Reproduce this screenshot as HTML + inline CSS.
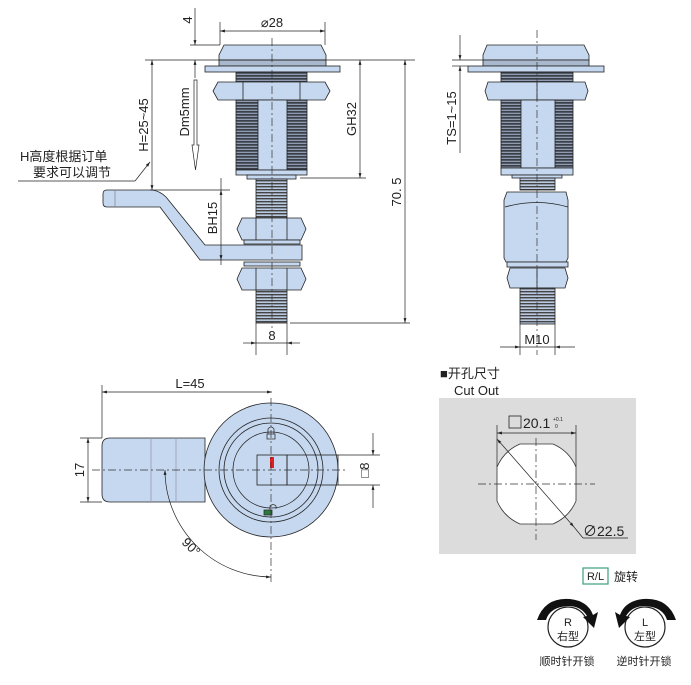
<!DOCTYPE html>
<html><head><meta charset="utf-8"><style>
html,body{margin:0;padding:0;background:#fff}
svg{display:block}
text{font-family:"Liberation Sans","Noto Sans CJK SC",sans-serif;fill:#222}
</style></head><body>
<svg width="691" height="685" viewBox="0 0 691 685" xmlns="http://www.w3.org/2000/svg">
<defs>
<pattern id="thr" width="4" height="3" patternUnits="userSpaceOnUse"><rect width="4" height="3" fill="#8e9bb0"/><rect width="4" height="1.7" fill="#3a3f48"/></pattern>
<pattern id="thr2" width="4" height="3" patternUnits="userSpaceOnUse"><rect width="4" height="3" fill="#b9c9e0"/><rect width="4" height="1.4" fill="#444"/></pattern>
<marker id="a" viewBox="0 0 10 10" refX="10" refY="5" markerWidth="7" markerHeight="7" orient="auto-start-reverse"><path d="M0,2 L10,5 L0,8z" fill="#222"/></marker>
</defs>
<g stroke="#222" stroke-width="0.8" fill="#c6d8ef">
<!-- LEFT SIDE VIEW -->
<path d="M224,45 L321,45 L326,55 L326,60 L219,60 L219,55z"/>
<rect x="219" y="60" width="107" height="6" fill="#a9b8cc"/>
<rect x="205" y="66" width="135" height="6"/>
<rect x="236" y="72" width="71" height="10" fill="url(#thr)"/>
<path d="M218,82 L325,82 L330,91 L325,100 L218,100 L213,91z"/>
<line x1="243" y1="82" x2="243" y2="100"/><line x1="300" y1="82" x2="300" y2="100"/>
<rect x="236" y="100" width="71" height="70" fill="url(#thr)"/>
<rect x="258" y="100" width="29" height="70"/>
<rect x="236" y="170" width="71" height="5"/>
<rect x="247" y="175" width="49" height="4"/>
<rect x="256" y="179" width="31" height="39" fill="url(#thr2)"/>
<path d="M242,218 L301,218 L306,229 L301,240 L242,240 L237,229z"/>
<line x1="256" y1="218" x2="256" y2="240"/><line x1="287" y1="218" x2="287" y2="240"/>
<rect x="244" y="240" width="56" height="4"/>
<path d="M107,190 L152,190 Q160,191 166,197 L205,245 L302,245 L302,260 L200,260 L160,207 L107,207 Q103,207 103,203 L103,194 Q103,190 107,190z"/>
<line x1="115" y1="190" x2="115" y2="207" stroke="#889"/>
<rect x="244" y="262" width="56" height="4"/>
<path d="M242,268 L301,268 L306,279 L301,290 L242,290 L237,279z"/>
<line x1="256" y1="268" x2="256" y2="290"/><line x1="287" y1="268" x2="287" y2="290"/>
<rect x="256" y="290" width="31" height="33" fill="url(#thr2)"/>

<!-- RIGHT SIDE VIEW -->
<path d="M487,45 L584,45 L589,55 L589,60 L483,60 L483,55z"/>
<rect x="483" y="60" width="106" height="6" fill="#a9b8cc"/>
<rect x="468" y="66" width="136" height="6"/>
<rect x="501" y="72" width="72" height="10" fill="url(#thr)"/>
<path d="M488,82 L585,82 L588,91 L585,100 L488,100 L485,91z"/>
<line x1="537" y1="82" x2="537" y2="100"/>
<rect x="501" y="100" width="72" height="68" fill="url(#thr)"/>
<rect x="521" y="100" width="34" height="68"/>
<rect x="501" y="168" width="72" height="7"/>
<rect x="512" y="175" width="50" height="3"/>
<rect x="520" y="178" width="35" height="12" fill="url(#thr2)"/>
<path d="M507,192 L566,192 L568,200 L568,258 L566,262 L506,262 L504,258 L504,200z"/>
<path d="M505,207 Q537,198 568,207" fill="none"/>
<rect x="507" y="262" width="61" height="5"/>
<path d="M510,268 L565,268 L568,278 L565,288 L510,288 L507,278z"/>
<line x1="537" y1="268" x2="537" y2="288"/>
<rect x="520" y="288" width="35" height="36" fill="url(#thr2)"/>

<!-- BOTTOM VIEW -->
<path d="M110,438 L205,438 L205,502 L110,502 Q102,502 102,494 L102,446 Q102,438 110,438z"/>
<line x1="151" y1="438" x2="151" y2="502" stroke="#99a"/>
<line x1="176" y1="438" x2="176" y2="502" stroke="#99a"/>
<circle cx="271" cy="470" r="67"/>
<circle cx="271" cy="470" r="52" fill="none"/>
<circle cx="271" cy="470" r="47" fill="none"/>
<circle cx="271" cy="470" r="38" fill="none"/>
<rect x="257" y="455" width="30" height="30" fill="none"/>
<rect x="287" y="455" width="51" height="30" fill="none"/>
<rect x="270" y="457" width="4" height="11" fill="#e02020" stroke="none"/>
<path d="M268,434 L268,429 Q271,425 274,429 L274,434z M267,434 h8 v5 h-8z" fill="none" stroke="#333"/>
<rect x="264" y="510" width="8" height="5" fill="#2a7a3a" stroke="#333"/>
<path d="M270,510 L270,506 Q273,503 276,506 L276,509" fill="none" stroke="#333"/>
</g>

<!-- centerlines -->
<g stroke="#333" stroke-width="0.7" stroke-dasharray="8,3,2,3" fill="none">
<line x1="272" y1="38" x2="272" y2="328"/>
<line x1="537" y1="30" x2="537" y2="355"/>
<line x1="92" y1="470" x2="345" y2="470"/>
<line x1="271" y1="398" x2="271" y2="582"/>
</g>

<!-- dimension lines -->
<g stroke="#222" stroke-width="0.7" fill="none">
<line x1="220" y1="22" x2="220" y2="45"/><line x1="325" y1="22" x2="325" y2="45"/>
<line x1="220" y1="31" x2="325" y2="31" marker-start="url(#a)" marker-end="url(#a)"/>
<line x1="190" y1="45" x2="220" y2="45"/>
<line x1="145" y1="60" x2="415" y2="60"/>
<line x1="195" y1="8" x2="195" y2="45" marker-end="url(#a)"/>
<line x1="195" y1="78" x2="195" y2="60" marker-end="url(#a)"/>
<line x1="152" y1="60" x2="152" y2="190" marker-start="url(#a)" marker-end="url(#a)"/>
<path d="M194,80 L197,80 L197,145 L199,145 L195.5,170 L192,145 L194,145z"/>
<line x1="18" y1="181" x2="135" y2="181"/>
<line x1="135" y1="181" x2="150" y2="162" marker-end="url(#a)"/>
<line x1="300" y1="178" x2="366" y2="178"/>
<line x1="360" y1="60" x2="360" y2="178" marker-start="url(#a)" marker-end="url(#a)"/>
<line x1="290" y1="323" x2="410" y2="323"/>
<line x1="405" y1="60" x2="405" y2="323" marker-start="url(#a)" marker-end="url(#a)"/>
<line x1="150" y1="190" x2="230" y2="190"/>
<line x1="221" y1="178" x2="221" y2="190" />
<line x1="221" y1="190" x2="221" y2="260" marker-start="url(#a)" marker-end="url(#a)"/>
<line x1="221" y1="260" x2="221" y2="265"/>
<line x1="256" y1="323" x2="256" y2="355"/><line x1="287" y1="323" x2="287" y2="355"/>
<line x1="243" y1="343" x2="256" y2="343" marker-end="url(#a)"/>
<line x1="300" y1="343" x2="287" y2="343" marker-end="url(#a)"/>
<line x1="256" y1="343" x2="287" y2="343"/>
<!-- right -->
<line x1="452" y1="60" x2="483" y2="60"/><line x1="452" y1="66" x2="468" y2="66"/>
<line x1="460" y1="35" x2="460" y2="60" marker-end="url(#a)"/>
<line x1="460" y1="80" x2="460" y2="66" marker-end="url(#a)"/>
<line x1="460" y1="80" x2="460" y2="153"/>
<line x1="520" y1="324" x2="520" y2="355"/><line x1="555" y1="324" x2="555" y2="355"/>
<line x1="500" y1="347" x2="520" y2="347" marker-end="url(#a)"/>
<line x1="575" y1="347" x2="555" y2="347" marker-end="url(#a)"/>
<line x1="520" y1="347" x2="555" y2="347"/>
<!-- bottom -->
<line x1="102" y1="385" x2="102" y2="438"/>
<line x1="102" y1="392" x2="272" y2="392" marker-start="url(#a)" marker-end="url(#a)"/>
<line x1="80" y1="438" x2="102" y2="438"/><line x1="80" y1="502" x2="102" y2="502"/>
<line x1="88" y1="438" x2="88" y2="502" marker-start="url(#a)" marker-end="url(#a)"/>
<line x1="338" y1="455" x2="380" y2="455"/><line x1="338" y1="485" x2="380" y2="485"/>
<line x1="373" y1="433" x2="373" y2="455" marker-end="url(#a)"/>
<line x1="373" y1="508" x2="373" y2="485" marker-end="url(#a)"/>
<path d="M165,470 A107,107 0 0 0 271,577" marker-start="url(#a)" marker-end="url(#a)"/>
</g>

<!-- texts -->
<g font-size="13">
<text x="272" y="27" text-anchor="middle">⌀28</text>
<text transform="translate(192,20) rotate(-90)" text-anchor="middle">4</text>
<text transform="translate(148,125) rotate(-90)" text-anchor="middle">H=25~45</text>
<text transform="translate(189,112) rotate(-90)" text-anchor="middle">Dm5mm</text>
<text transform="translate(356,119) rotate(-90)" text-anchor="middle">GH32</text>
<text transform="translate(401,192) rotate(-90)" text-anchor="middle">70. 5</text>
<text transform="translate(217,218) rotate(-90)" text-anchor="middle">BH15</text>
<text x="272" y="340" text-anchor="middle">8</text>
<text x="20" y="161">H高度根据订单</text>
<text x="33" y="177">要求可以调节</text>
<text transform="translate(456,118) rotate(-90)" text-anchor="middle">TS=1~15</text>
<text x="537" y="344" text-anchor="middle">M10</text>
<text x="190" y="388" text-anchor="middle">L=45</text>
<text transform="translate(84,470) rotate(-90)" text-anchor="middle">17</text>
<text transform="translate(369,470) rotate(-90)" text-anchor="middle">□8</text>
<text transform="translate(188,550) rotate(45)" text-anchor="middle">90°</text>
<text x="440" y="378">■开孔尺寸</text>
<text x="454" y="395">Cut Out</text>
</g>

<!-- cut out -->
<rect x="439" y="398" width="197" height="156" fill="#dcdcdc"/>
<path d="M520,444 L553,444 A44,44 0 0 1 576,467 L576,501 A44,44 0 0 1 553,524 L520,524 A44,44 0 0 1 497,501 L497,467 A44,44 0 0 1 520,444z" fill="#fff" stroke="#333" stroke-width="0.8"/>
<g stroke="#333" stroke-width="0.7" stroke-dasharray="8,3,2,3" fill="none">
<line x1="478" y1="484" x2="595" y2="484"/><line x1="536" y1="438" x2="536" y2="540"/>
</g>
<g stroke="#222" stroke-width="0.7" fill="none">
<line x1="497" y1="425" x2="497" y2="467"/><line x1="576" y1="425" x2="576" y2="467"/>
<line x1="497" y1="433" x2="576" y2="433" marker-start="url(#a)" marker-end="url(#a)"/>
<line x1="497" y1="439" x2="574" y2="527" marker-start="url(#a)" marker-end="url(#a)"/>
<line x1="574" y1="527" x2="583" y2="538"/>
<line x1="583" y1="538" x2="628" y2="538"/>
</g>
<rect x="509" y="416" width="12" height="12" fill="none" stroke="#222" stroke-width="0.8"/>
<text x="523" y="428" font-size="14">20.1</text>
<text x="553" y="421" font-size="5">+0.1</text>
<text x="555" y="428" font-size="5">0</text>
<text x="583" y="536" font-size="14">∅22.5</text>

<!-- R/L -->
<rect x="583" y="568" width="25" height="16" fill="#fff" stroke="#3aa080" stroke-width="1.2"/>
<text x="595.5" y="580" font-size="11" text-anchor="middle">R/L</text>
<text x="614" y="581" font-size="12">旋转</text>
<circle cx="568" cy="627" r="20" fill="#fff" stroke="#222" stroke-width="1.2"/>
<circle cx="645" cy="627" r="20" fill="#fff" stroke="#222" stroke-width="1.2"/>
<path d="M537,620 Q545,597 570,599 Q588,601 593,615 L598,612 L594,628 L583,617 L587,616 Q581,606 568,606 Q550,607 546,620z" fill="#111"/>
<path d="M676,620 Q668,597 643,599 Q625,601 620,615 L615,612 L619,628 L630,617 L626,616 Q632,606 645,606 Q663,607 667,620z" fill="#111"/>
<text x="568" y="626" font-size="11" text-anchor="middle">R</text>
<text x="568" y="640" font-size="11" text-anchor="middle">右型</text>
<text x="645" y="626" font-size="11" text-anchor="middle">L</text>
<text x="645" y="640" font-size="11" text-anchor="middle">左型</text>
<text x="567" y="665" font-size="11" text-anchor="middle">顺时针开锁</text>
<text x="644" y="665" font-size="11" text-anchor="middle">逆时针开锁</text>
</svg>
</body></html>
